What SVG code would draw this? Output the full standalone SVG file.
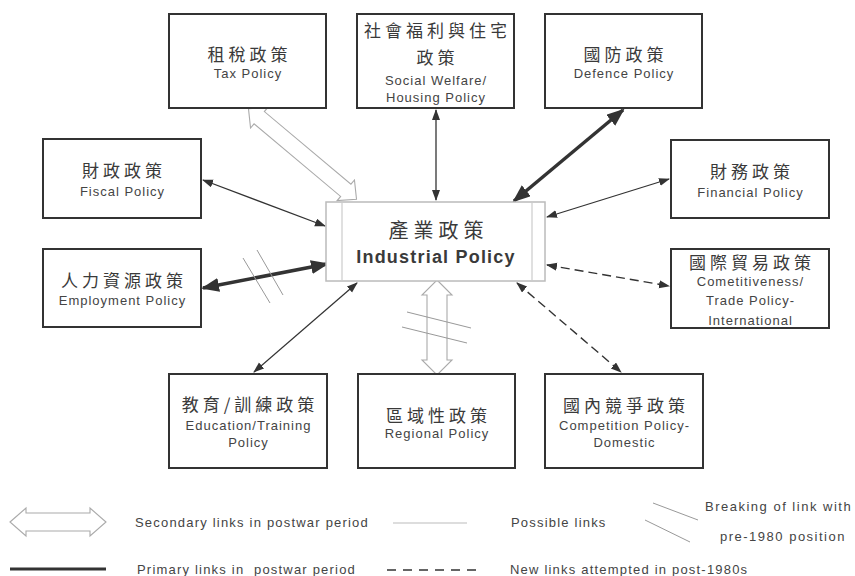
<svg xmlns="http://www.w3.org/2000/svg" width="855" height="576" viewBox="0 0 855 576">
<style>
.box{fill:#fff;stroke:#333;stroke-width:2}
.zh{font-family:"Noto Sans CJK TC","Noto Sans CJK SC",sans-serif;font-size:17px;letter-spacing:4px;fill:#3a3a3a;text-anchor:middle}
.en{font-family:"Liberation Sans",Arial,sans-serif;font-size:13px;letter-spacing:1px;fill:#444;text-anchor:middle}
.lg{font-family:"Liberation Sans",Arial,sans-serif;font-size:13px;letter-spacing:1.2px;fill:#444}
.thin{stroke:#333;stroke-width:1.3;fill:none;marker-start:url(#ah);marker-end:url(#ah)}
.thick{stroke:#333;stroke-width:3.5;fill:none;marker-start:url(#ahb);marker-end:url(#ahb)}
.dash{stroke:#333;stroke-width:1.4;fill:none;stroke-dasharray:9 5;marker-start:url(#ah);marker-end:url(#ah)}
.hollow{fill:#fff;stroke:#aaa;stroke-width:1.1}
.brk{stroke:#999;stroke-width:1;fill:none}
</style>
<defs>
<marker id="ah" markerUnits="userSpaceOnUse" markerWidth="12" markerHeight="10" refX="10" refY="4" orient="auto-start-reverse"><path d="M0,0 L11,4 L0,8 Z" fill="#333"/></marker>
<marker id="ahb" markerUnits="userSpaceOnUse" markerWidth="20" markerHeight="15" refX="16" refY="7" orient="auto-start-reverse"><path d="M0,0 L18,7 L0,14 Z" fill="#333"/></marker>
</defs>
<rect width="855" height="576" fill="#fff"/>

<g id="connectors">
<path class="hollow" transform="translate(302.5,154) rotate(40)" d="M-70.5,0 L-56.5,-13.5 L-56.5,-8 L56.5,-8 L56.5,-13.5 L70.5,0 L56.5,13.5 L56.5,8 L-56.5,8 L-56.5,13.5 Z"/>
<path class="hollow" transform="translate(437,327.5) rotate(90)" d="M-47.5,0 L-32.5,-15 L-32.5,-10 L32.5,-10 L32.5,-15 L47.5,0 L32.5,15 L32.5,10 L-32.5,10 L-32.5,15 Z"/>
<line class="thin" x1="436" y1="110" x2="436" y2="200"/>
<line class="thick" x1="623" y1="110" x2="514" y2="201"/>
<line class="thin" x1="203" y1="180" x2="325" y2="226"/>
<line class="thin" x1="669" y1="179" x2="547" y2="217"/>
<line class="thick" x1="203" y1="288" x2="327" y2="264"/>
<line class="dash" x1="547" y1="265" x2="669" y2="286"/>
<line class="thin" x1="254" y1="372" x2="357" y2="283"/>
<line class="dash" x1="517" y1="283" x2="621" y2="372"/>
<line class="brk" x1="243" y1="258" x2="270" y2="303"/>
<line class="brk" x1="257" y1="250" x2="283" y2="295"/>
<line class="brk" x1="407" y1="312" x2="471" y2="328"/>
<line class="brk" x1="402" y1="327" x2="467" y2="343"/>
</g>

<g id="industrial">
<rect x="326" y="202" width="219" height="79" fill="#fff" stroke="#bbb" stroke-width="1.5"/>
<line x1="342" y1="202" x2="342" y2="281" stroke="#ccc" stroke-width="1.2"/>
<line x1="532" y1="202" x2="532" y2="281" stroke="#ccc" stroke-width="1.2"/>
<text class="zh" x="438.5" y="238" style="font-size:20px;letter-spacing:5px">產業政策</text>
<text class="en" x="436" y="263" style="font-size:18px;font-weight:bold;letter-spacing:1.2px;fill:#3a3a3a">Industrial Policy</text>
</g>

<g id="tax">
<rect class="box" x="169" y="14" width="157" height="94"/>
<text class="zh" x="249.5" y="61">租稅政策</text>
<text class="en" x="248" y="78">Tax Policy</text>
</g>

<g id="social">
<rect class="box" x="357" y="14" width="157" height="94"/>
<text class="zh" x="437.5" y="36.5">社會福利與住宅</text>
<text class="zh" x="437.5" y="64">政策</text>
<text class="en" x="436" y="84.5">Social Welfare/</text>
<text class="en" x="436" y="101.5">Housing Policy</text>
</g>

<g id="defence">
<rect class="box" x="545" y="14" width="157" height="94"/>
<text class="zh" x="625.5" y="61">國防政策</text>
<text class="en" x="624" y="78">Defence Policy</text>
</g>

<g id="fiscal">
<rect class="box" x="43" y="139" width="158" height="79"/>
<text class="zh" x="124" y="176.5">財政政策</text>
<text class="en" x="122.5" y="196">Fiscal Policy</text>
</g>

<g id="financial">
<rect class="box" x="671" y="140" width="158" height="78"/>
<text class="zh" x="752" y="177.5">財務政策</text>
<text class="en" x="750.5" y="197">Financial Policy</text>
</g>

<g id="employment">
<rect class="box" x="43" y="249" width="158" height="78"/>
<text class="zh" x="124" y="286.5">人力資源政策</text>
<text class="en" x="122.5" y="304.5">Employment Policy</text>
</g>

<g id="trade">
<rect class="box" x="671" y="249" width="158" height="79"/>
<text class="zh" x="752" y="269">國際貿易政策</text>
<text class="en" x="750.5" y="285.5">Cometitiveness/</text>
<text class="en" x="750.5" y="304.5">Trade Policy-</text>
<text class="en" x="750.5" y="324.5">International</text>
</g>

<g id="education">
<rect class="box" x="169" y="374" width="158" height="94"/>
<text class="zh" x="250" y="411">教育/訓練政策</text>
<text class="en" x="248.5" y="429.5">Education/Training</text>
<text class="en" x="248.5" y="447">Policy</text>
</g>

<g id="regional">
<rect class="box" x="358" y="374" width="157" height="94"/>
<text class="zh" x="438.5" y="421.5">區域性政策</text>
<text class="en" x="437" y="437.5">Regional Policy</text>
</g>

<g id="competition">
<rect class="box" x="545" y="374" width="158" height="94"/>
<text class="zh" x="626" y="411.5">國內競爭政策</text>
<text class="en" x="624.5" y="429.5">Competition Policy-</text>
<text class="en" x="624.5" y="447">Domestic</text>
</g>

<g id="legend">
<path class="hollow" transform="translate(58,522)" d="M-48,0 L-32,-14 L-32,-9 L32,-9 L32,-14 L48,0 L32,14 L32,9 L-32,9 L-32,14 Z"/>
<text class="lg" x="135" y="527">Secondary links in postwar period</text>
<line x1="10" y1="569" x2="106" y2="569" stroke="#333" stroke-width="3"/>
<text class="lg" x="137" y="574" style="white-space:pre">Primary links in  postwar period</text>
<line x1="393" y1="523" x2="467" y2="523" stroke="#bbb" stroke-width="1"/>
<text class="lg" x="511" y="527">Possible links</text>
<line x1="387" y1="570" x2="477" y2="570" stroke="#333" stroke-width="1.3" stroke-dasharray="9 7"/>
<text class="lg" x="510" y="574">New links attempted in post-1980s</text>
<line class="brk" x1="653" y1="503" x2="698" y2="520"/>
<line class="brk" x1="645" y1="520" x2="690" y2="542"/>
<text class="lg" x="705" y="511" style="letter-spacing:1.5px">Breaking of link with</text>
<text class="lg" x="720" y="541" style="letter-spacing:1.5px">pre-1980 position</text>
</g>
</svg>
